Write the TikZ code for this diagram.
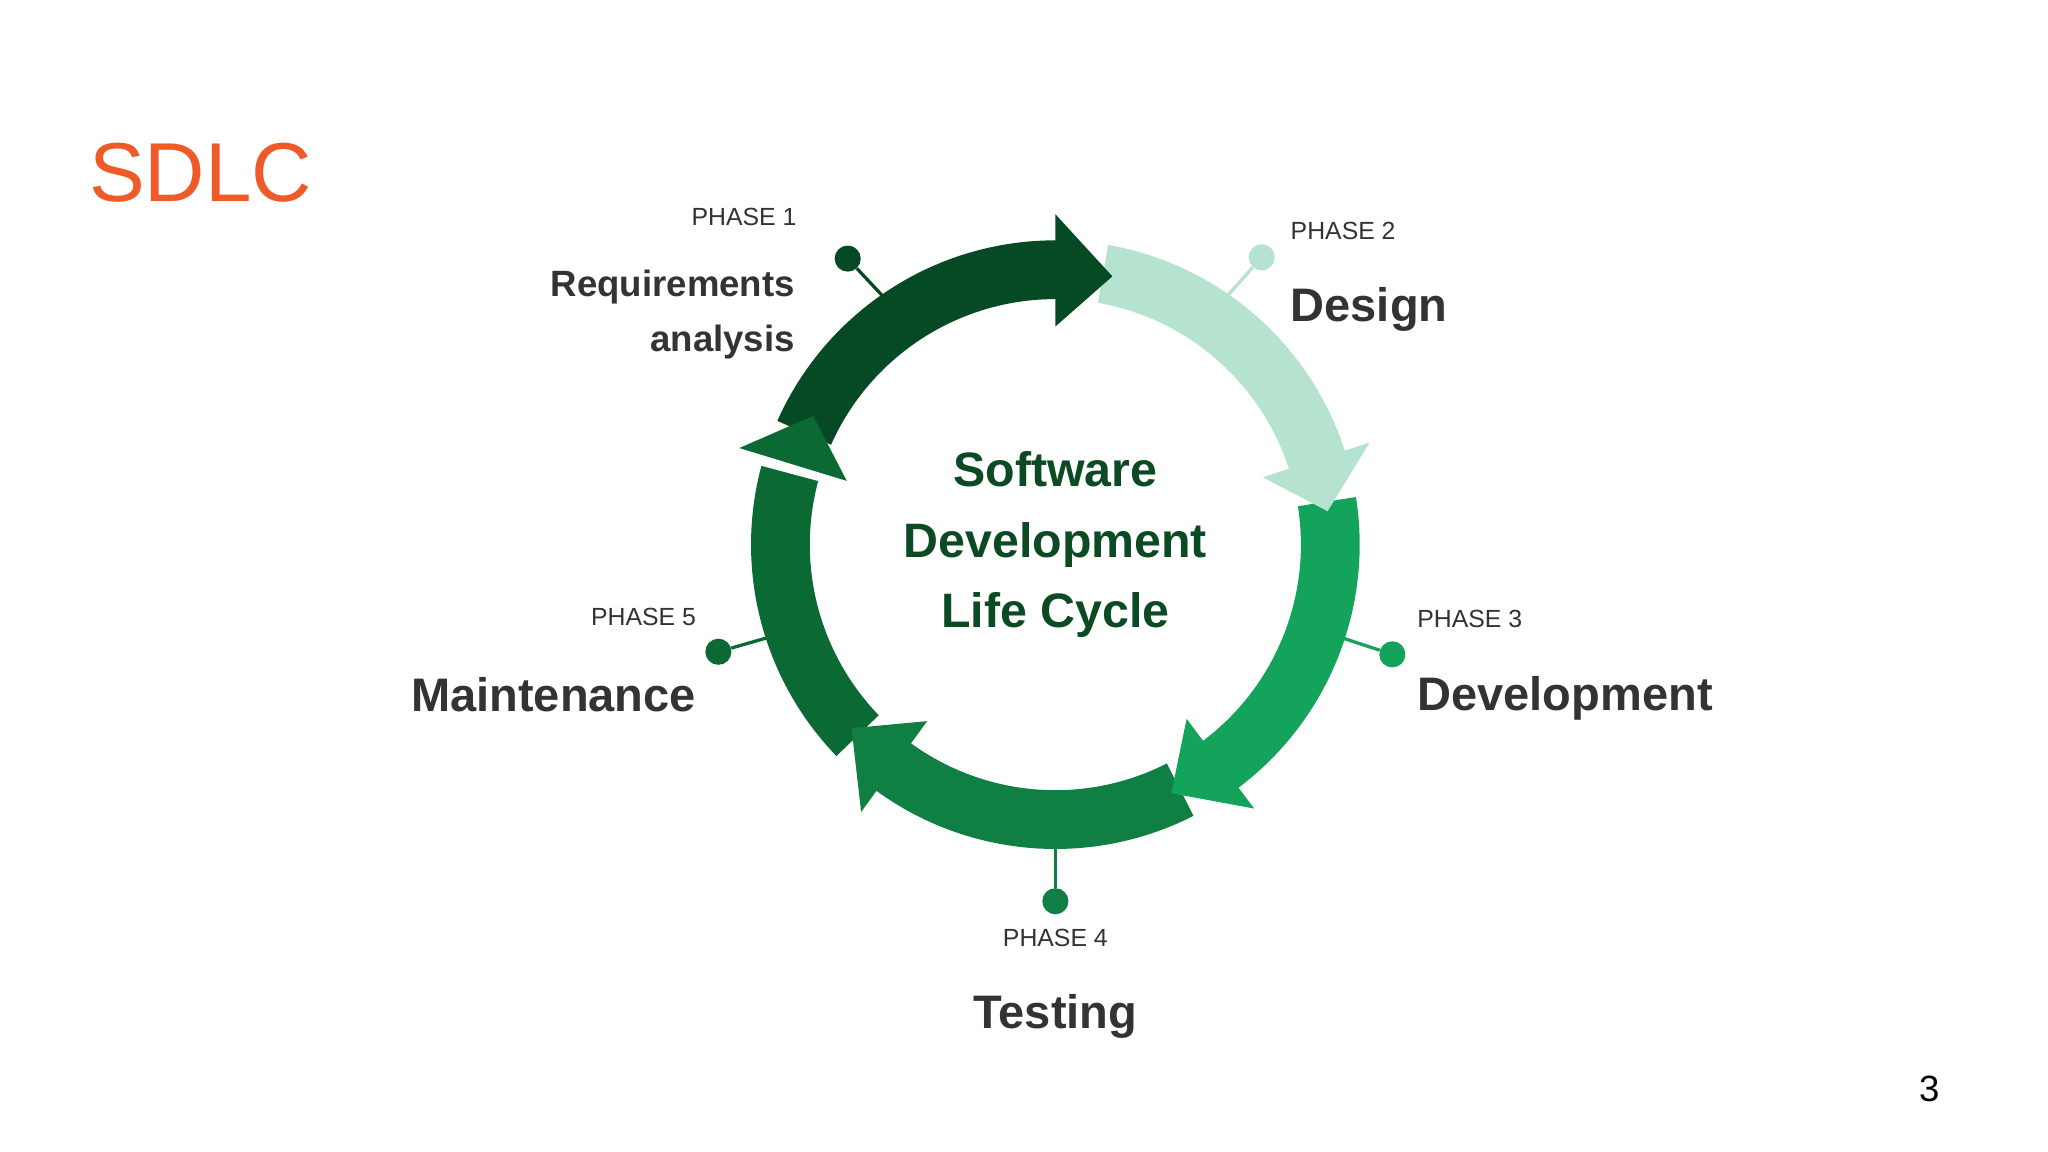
\documentclass[tikz,border=0pt]{standalone}
\usepackage{fontspec}
\setmainfont{Liberation Sans}
\definecolor{cA}{HTML}{054A24}
\definecolor{cB}{HTML}{B5E3CF}
\definecolor{cC}{HTML}{14A35B}
\definecolor{cD}{HTML}{0F7F44}
\definecolor{cE}{HTML}{0B6A33}
\definecolor{txt}{HTML}{333333}
\definecolor{ctr}{HTML}{0B4A22}
\definecolor{org}{HTML}{F05A28}
\newcommand{\ringband}[3]{\fill[#3] (#1:233) arc[start angle=#1,end angle=#2,radius=233] -- (#2:188) arc[start angle=#2,end angle=#1,radius=188] -- cycle;}
\newcommand{\ringhead}[3]{\fill[#3] (#1:253) -- (#2:210) -- (#1:167) -- cycle;}
\begin{document}
\begin{tikzpicture}[x=1pt,y=1pt,
  phase/.style={font=\fontsize{19}{22}\selectfont, text=txt, inner sep=0},
  title/.style={font=\fontsize{36}{40}\selectfont\bfseries, text=txt, inner sep=0},
  pin/.style={circle, inner sep=0, minimum size=20},
  stem/.style={line width=2.5}]
\useasboundingbox (0,0) rectangle (1568,-882);
\fill[white] (0,0) rectangle (1568,-882);
\node[font=\fontsize{64}{70}\selectfont, text=org, anchor=west, inner sep=0] (sdlc) at (68,-132) {SDLC};
\node[font=\fontsize{28}{30}\selectfont, text=black, inner sep=0] (pg) at (1477,-834) {3};
\begin{scope}[shift={(808,-417)}]
  \ringband{156}{88}{cA}
  \ringband{80}{16}{cB}
  \ringband{9}{-55}{cC}
  \ringband{-63}{-128}{cD}
  \ringband{-136}{-195}{cE}
  \ringhead{90}{78}{cA}
  \ringhead{18}{7}{cB}
  \ringhead{-53}{-65}{cC}
  \ringhead{-126}{-138}{cD}
  \ringhead{163}{152}{cE}
  \coordinate (r1) at (124:212);
  \coordinate (r2) at (56:212);
  \coordinate (r3) at (-18:222);
  \coordinate (r4) at (-90:231);
  \coordinate (r5) at (-162:222);
\end{scope}
\node[pin, fill=cA] (p1) at (649,-198) {};
\node[pin, fill=cB] (p2) at (966,-197) {};
\node[pin, fill=cC] (p3) at (1066,-501) {};
\node[pin, fill=cD] (p4) at (808,-690) {};
\node[pin, fill=cE] (p5) at (550,-499) {};
\draw[stem, cA] (p1) -- (r1);
\draw[stem, cB] (p2) -- (r2);
\draw[stem, cC] (p3) -- (r3);
\draw[stem, cD] (p4) -- (r4);
\draw[stem, cE] (p5) -- (r5);
\node[align=center, font=\fontsize{37}{54}\selectfont\bfseries, text=ctr] (center) at (808,-417) {Software\\Development\\Life Cycle};
\node[phase, anchor=east] (ph1) at (610,-166) {PHASE 1};
\node[align=right, anchor=east, font=\fontsize{28}{42}\selectfont\bfseries, text=txt] (t1) at (612,-241) {Requirements\\analysis};
\node[phase, anchor=west] (ph2) at (988,-177) {PHASE 2};
\node[title, anchor=west] (t2) at (988,-237) {Design};
\node[phase, anchor=west] (ph3) at (1085,-474) {PHASE 3};
\node[title, anchor=west] (t3) at (1085,-535) {Development};
\node[phase] (ph4) at (808,-718) {PHASE 4};
\node[title] (t4) at (808,-778) {Testing};
\node[phase, anchor=east] (ph5) at (533,-472) {PHASE 5};
\node[title, anchor=east] (t5) at (533,-532) {Maintenance};
\end{tikzpicture}
\end{document}
